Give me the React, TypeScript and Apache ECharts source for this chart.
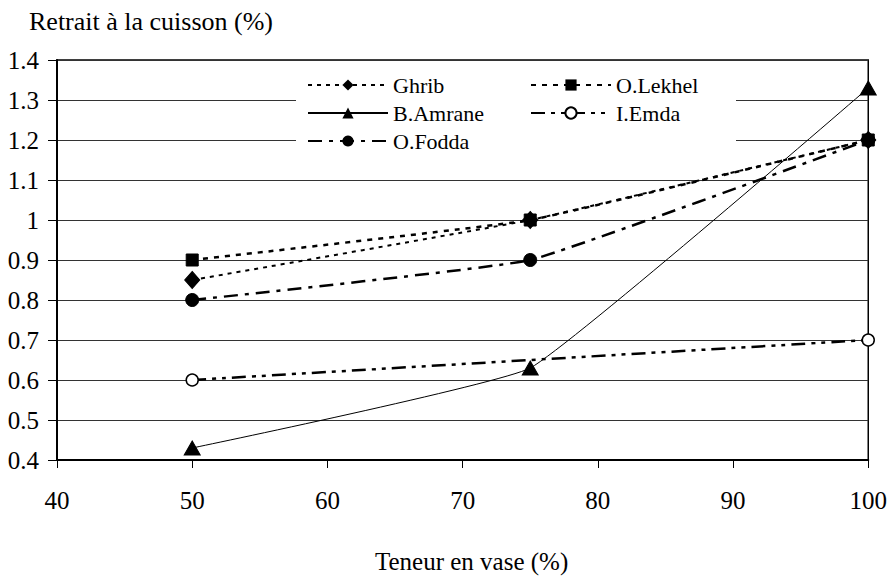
import React, { useEffect, useRef } from "react";
import * as echarts from "echarts";

const xValues = [50, 75, 100];
const ghrib = [0.85, 1.0, 1.2];
const lekhel = [0.9, 1.0, 1.2];
const amrane = [0.43, 0.63, 1.33];
const emda = [0.6, null, 0.7];
const fodda = [0.8, 0.9, 1.2];

const FONT = "Times New Roman";

const pairs = (ys: (number | null)[]) =>
  xValues.map((x, i) => [x, ys[i]]).filter((p) => p[1] !== null);

export default function App() {
  const ref = useRef<HTMLDivElement>(null);
  useEffect(() => {
    if (!ref.current) return;
    const chart = echarts.init(ref.current, null, { renderer: "svg" });
    const legendText = { fontFamily: FONT, fontSize: 22, color: "#000" };
    const common = {
      type: "line",
      smooth: 0.1,
      symbolKeepAspect: true,
      itemStyle: { color: "#000", borderColor: "#000" },
      emphasis: { disabled: true },
    };
    chart.setOption({
      animation: false,
      backgroundColor: "#fff",
      textStyle: { fontFamily: FONT },
      title: {
        text: "Retrait à la cuisson (%)",
        left: 24,
        top: 3,
        textStyle: { fontFamily: FONT, fontSize: 26, fontWeight: "normal", color: "#000" },
      },
      grid: {
        left: 57,
        right: 20,
        top: 60,
        bottom: 117,
        show: true,
        borderColor: "#000",
        borderWidth: 1.5,
        backgroundColor: "transparent",
      },
      graphic: [
        {
          type: "rect",
          z: 1,
          shape: { x: 296, y: 68, width: 440, height: 88 },
          style: { fill: "#fff" },
        },
      ],
      legend: [
        {
          data: ["Ghrib", "B.Amrane", "O.Fodda"],
          orient: "vertical",
          left: 307,
          top: 74,
          padding: 0,
          itemWidth: 80,
          itemHeight: 14,
          itemGap: 6,
          textStyle: legendText,
          selectedMode: false,
        },
        {
          data: ["O.Lekhel", "I.Emda"],
          orient: "vertical",
          left: 530,
          top: 74,
          padding: 0,
          itemWidth: 80,
          itemHeight: 14,
          itemGap: 6,
          textStyle: legendText,
          selectedMode: false,
        },
      ],
      xAxis: {
        type: "value",
        min: 40,
        max: 100,
        interval: 10,
        name: "Teneur en vase (%)",
        nameLocation: "middle",
        nameGap: 89,
        nameTextStyle: { fontFamily: FONT, fontSize: 25, color: "#000", padding: [0, 0, 0, 18] },
        axisLine: { show: true, lineStyle: { color: "#000", width: 2 } },
        axisTick: { show: true, inside: false, length: 8, lineStyle: { color: "#000", width: 1 } },
        axisLabel: { fontFamily: FONT, fontSize: 25, color: "#000", margin: 28 },
        splitLine: { show: false },
      },
      yAxis: {
        type: "value",
        min: 0.4,
        max: 1.4,
        interval: 0.1,
        axisLine: { show: true, lineStyle: { color: "#000", width: 2 } },
        axisTick: { show: true, inside: false, length: 9, lineStyle: { color: "#000", width: 1 } },
        axisLabel: {
          fontFamily: FONT,
          fontSize: 25,
          color: "#000",
          margin: 18,
          formatter: (v: number) => String(Math.round(v * 10) / 10),
        },
        splitLine: { show: true, lineStyle: { color: "#333", width: 1 } },
      },
      series: [
        {
          ...common,
          name: "Ghrib",
          data: pairs(ghrib),
          symbol: "diamond",
          symbolSize: [15, 17],
          lineStyle: { color: "#000", width: 2, type: [4, 5] },
        },
        {
          ...common,
          name: "I.Emda",
          data: pairs(emda),
          symbol: "circle",
          symbolSize: 12,
          itemStyle: { color: "#fff", borderColor: "#000", borderWidth: 1.5 },
          lineStyle: { color: "#000", width: 2.5, type: [14, 6, 4, 6, 4, 6] },
        },
        {
          ...common,
          name: "O.Fodda",
          data: pairs(fodda),
          symbol: "circle",
          symbolSize: 13,
          lineStyle: { color: "#000", width: 2.5, type: [14, 7, 4, 7] },
        },
        {
          ...common,
          name: "O.Lekhel",
          data: pairs(lekhel),
          symbol: "rect",
          symbolSize: 12,
          lineStyle: { color: "#000", width: 2.5, type: [5, 6] },
        },
        {
          ...common,
          name: "B.Amrane",
          data: pairs(amrane),
          symbol: "triangle",
          symbolSize: [16, 14],
          lineStyle: { color: "#000", width: 1 },
        },
      ],
    });
    return () => chart.dispose();
  }, []);
  return <div ref={ref} style={{ width: 890, height: 579, position: "absolute", left: 0, top: 0 }} />;
}
